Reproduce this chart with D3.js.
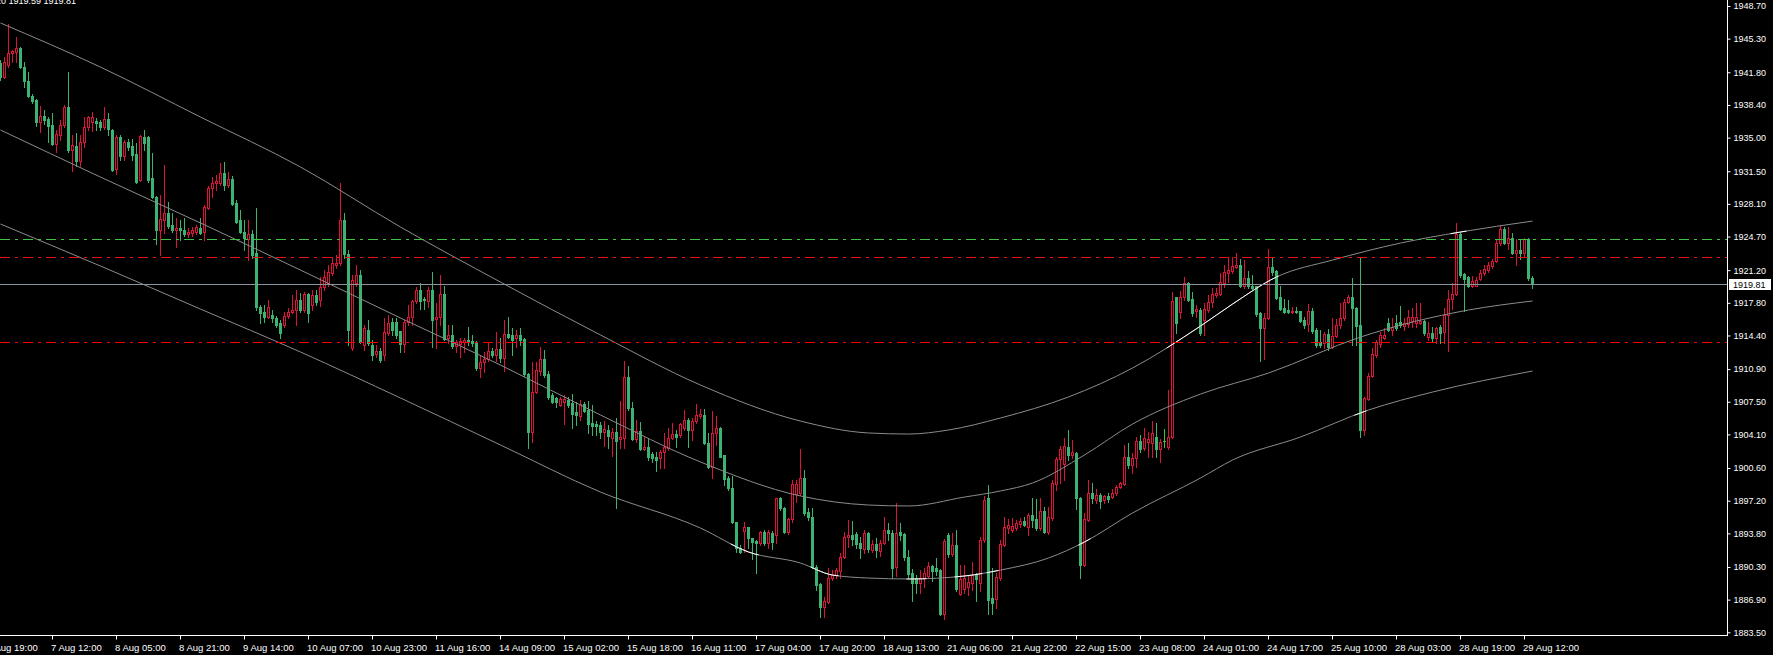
<!DOCTYPE html>
<html><head><meta charset="utf-8">
<script src="https://cdn.jsdelivr.net/npm/d3@7"></script>
<style>
html,body{margin:0;padding:0;background:#000;overflow:hidden}
svg{display:block}
</style></head><body>
<svg id="chart" width="1773" height="655"></svg>
<script>
// ---------- DATA (XAUUSD H1) ----------
const headerText = "XAUUSD,H1  1920.03 1920.20 1919.59 1919.81";
const openP = [
1942.8,1941.3,1942.6,1943.8,1943.9,1944.3,1942.3,1940.9,1939.3,1938.9,
1936.6,1937.2,1936.9,1936.3,1934.3,1935.3,1936.3,1938.2,1933.7,1934.1,
1932.6,1934.5,1936.1,1936.6,1936.7,1936.6,1936.1,1936.9,1935.8,1931.7,
1935.1,1933.1,1934.5,1934.1,1933.3,1930.6,1935.1,1935.1,1930.8,1928.8,
1925.4,1926.4,1927.2,1925.9,1925.4,1925.6,1925.4,1925.0,1925.1,1925.2,
1925.6,1925.2,1927.7,1929.8,1930.3,1930.3,1931.3,1930.1,1930.7,1928.2,
1926.4,1925.2,1924.4,1925.0,1923.0,1917.4,1916.8,1916.3,1916.5,1916.2,
1915.7,1915.5,1916.4,1916.8,1917.1,1918.1,1917.1,1918.7,1917.6,1918.6,
1918.1,1919.4,1919.9,1920.9,1921.7,1921.9,1926.4,1922.9,1913.1,1919.9,
1920.7,1913.4,1915.0,1913.4,1912.5,1912.8,1912.4,1914.7,1915.8,1915.8,
1914.9,1913.5,1915.8,1916.3,1918.0,1919.1,1918.2,1918.0,1919.1,1916.1,
1916.3,1918.7,1914.1,1914.5,1913.3,1913.5,1913.7,1913.9,1913.8,1913.7,
1911.0,1911.6,1911.9,1912.8,1912.4,1913.0,1912.1,1914.6,1914.5,1914.1,
1914.5,1914.0,1910.4,1904.3,1908.5,1910.7,1911.9,1910.4,1908.2,1907.9,
1907.2,1907.5,1907.7,1907.4,1906.4,1906.0,1907.3,1906.6,1905.3,1905.2,
1905.1,1904.3,1904.6,1903.7,1904.3,1903.6,1903.7,1910.1,1906.9,1903.6,
1904.5,1902.6,1902.8,1902.1,1901.7,1901.6,1902.3,1902.7,1903.7,1904.1,
1904.0,1904.8,1905.6,1904.6,1905.5,1906.0,1906.1,1903.2,1900.7,1904.2,
1904.8,1902.0,1899.6,1898.5,1895.0,1892.3,1894.0,1894.5,1893.3,1893.0,
1892.8,1893.9,1892.8,1893.8,1893.6,1897.5,1896.4,1893.9,1895.3,1897.9,
1898.0,1899.6,1896.0,1895.5,1890.3,1888.5,1886.1,1886.7,1889.2,1889.5,
1889.9,1891.3,1893.4,1893.6,1893.7,1892.8,1892.2,1893.8,1892.1,1892.7,
1892.0,1892.8,1894.2,1893.8,1890.3,1893.9,1893.7,1891.3,1889.7,1889.2,
1888.6,1889.2,1889.4,1890.4,1890.2,1890.0,1885.4,1893.6,1891.6,1892.6,
1887.5,1888.0,1888.2,1888.6,1889.6,1888.6,1893.1,1897.5,1887.1,1887.0,
1889.2,1892.6,1894.4,1894.2,1894.4,1894.8,1895.1,1894.5,1895.7,1895.3,
1894.4,1896.1,1893.9,1895.4,1898.9,1901.5,1901.0,1902.8,1902.0,1902.2,
1897.5,1890.5,1895.2,1898.0,1897.3,1897.8,1897.3,1897.7,1897.6,1898.0,
1898.6,1898.9,1901.7,1900.9,1901.6,1903.4,1902.7,1903.3,1903.2,1903.8,
1902.6,1903.4,1902.8,1903.8,1918.4,1916.8,1918.4,1919.9,1918.2,1916.9,
1917.1,1916.0,1917.1,1917.9,1918.6,1918.7,1919.9,1920.9,1921.1,1921.5,
1921.7,1919.5,1920.4,1919.6,1919.5,1916.7,1915.2,1916.2,1921.5,1921.1,
1918.4,1917.3,1917.1,1916.8,1917.0,1916.9,1916.0,1915.6,1917.0,1915.0,
1913.7,1913.6,1914.6,1913.2,1914.3,1915.5,1916.2,1917.9,1918.4,1917.3,
1915.5,1904.6,1907.8,1910.2,1912.4,1913.5,1914.1,1915.7,1915.0,1915.7,
1915.8,1915.4,1915.6,1915.9,1915.7,1915.7,1915.9,1914.2,1914.7,1914.1,
1915.3,1914.8,1916.5,1918.2,1918.7,1925.0,1920.8,1920.5,1919.6,1919.6,
1920.3,1920.9,1921.2,1921.6,1922.2,1924.0,1925.5,1924.0,1924.5,1923.0,
1923.3,1923.0,1924.4,1920.4];
const highP = [
1943.1,1943.4,1946.8,1944.1,1945.5,1944.4,1942.9,1941.8,1939.5,1939.0,
1938.3,1937.9,1937.1,1937.6,1935.8,1936.8,1938.4,1941.8,1935.3,1935.5,
1935.3,1937.1,1937.2,1937.7,1937.0,1936.8,1938.2,1937.6,1935.9,1935.3,
1935.3,1934.8,1934.9,1934.9,1934.4,1935.3,1935.8,1935.2,1933.4,1928.9,
1929.0,1932.1,1928.3,1927.1,1926.6,1926.4,1926.6,1925.6,1925.7,1925.9,
1926.6,1928.0,1930.0,1930.9,1931.1,1932.4,1932.5,1931.4,1931.0,1928.5,
1927.5,1926.4,1926.4,1925.4,1927.7,1917.6,1917.6,1918.1,1917.1,1916.4,
1916.0,1916.8,1917.3,1918.6,1919.1,1918.8,1918.9,1918.8,1919.1,1919.1,
1920.5,1921.2,1921.7,1922.6,1922.8,1930.3,1927.2,1923.3,1920.7,1921.7,
1921.2,1915.5,1916.0,1913.9,1913.4,1913.1,1916.2,1916.5,1916.2,1916.2,
1914.9,1916.0,1917.6,1918.1,1919.4,1919.9,1918.4,1919.4,1921.0,1917.8,
1920.7,1919.6,1915.5,1915.5,1913.9,1914.1,1914.1,1915.3,1914.5,1913.8,
1912.4,1912.7,1913.7,1913.1,1914.8,1914.1,1916.0,1916.3,1915.2,1915.0,
1915.2,1914.1,1910.5,1911.6,1911.6,1913.2,1912.9,1910.7,1908.4,1908.0,
1908.0,1908.2,1908.0,1908.3,1907.5,1907.7,1907.5,1907.6,1907.2,1905.5,
1905.4,1905.5,1905.1,1904.8,1905.8,1907.6,1911.7,1911.2,1907.5,1905.6,
1905.4,1903.8,1903.7,1902.3,1902.3,1902.5,1904.2,1904.8,1905.3,1904.6,
1905.3,1906.6,1905.8,1905.8,1907.3,1906.7,1906.7,1904.2,1906.5,1906.0,
1904.9,1902.0,1899.8,1899.8,1895.0,1892.6,1895.0,1894.5,1893.3,1893.1,
1894.0,1894.2,1894.2,1894.0,1897.5,1897.6,1896.5,1895.4,1899.4,1899.4,
1902.6,1900.4,1896.4,1896.4,1890.5,1888.6,1887.2,1890.2,1890.0,1890.2,
1891.8,1893.9,1895.2,1895.1,1893.9,1893.4,1894.2,1893.9,1893.1,1893.3,
1893.1,1895.5,1894.9,1894.2,1897.0,1894.9,1893.8,1892.1,1890.1,1889.5,
1890.0,1890.2,1890.8,1890.5,1891.2,1890.1,1893.2,1893.8,1893.8,1894.2,
1890.5,1890.5,1889.5,1890.8,1889.7,1893.4,1897.7,1898.8,1890.2,1889.7,
1893.1,1895.5,1895.3,1895.4,1895.2,1895.4,1895.5,1895.9,1897.5,1897.4,
1897.5,1896.5,1896.5,1899.4,1901.7,1902.9,1903.7,1904.6,1903.5,1902.3,
1897.6,1895.9,1899.4,1899.0,1898.4,1898.0,1897.8,1898.0,1898.4,1898.8,
1899.1,1903.0,1903.2,1902.2,1903.8,1904.0,1904.8,1904.4,1905.5,1905.3,
1903.6,1904.7,1908.7,1918.9,1918.4,1919.0,1920.5,1920.0,1918.9,1917.6,
1917.3,1917.8,1918.6,1919.3,1919.3,1920.9,1921.7,1922.6,1922.6,1923.0,
1922.4,1922.3,1921.1,1920.7,1919.6,1916.8,1916.7,1923.4,1922.5,1921.2,
1919.6,1918.2,1918.1,1917.4,1917.4,1917.0,1916.3,1917.7,1917.3,1915.2,
1915.0,1914.8,1915.1,1916.2,1916.1,1917.8,1918.2,1918.6,1920.4,1917.4,
1922.5,1908.0,1910.5,1913.1,1913.9,1914.8,1915.2,1916.2,1916.2,1916.5,
1917.5,1916.2,1917.1,1917.3,1917.8,1917.8,1916.0,1915.8,1915.3,1915.3,
1915.5,1917.3,1919.1,1919.9,1926.1,1925.2,1920.9,1920.6,1920.6,1920.5,
1921.2,1921.7,1922.0,1922.4,1924.3,1925.9,1925.7,1925.7,1925.1,1924.4,
1924.4,1924.5,1924.5,1920.6];
const lowP = [
1941.0,1941.2,1942.4,1942.9,1942.9,1942.2,1940.3,1939.2,1938.6,1936.2,
1935.6,1936.4,1934.5,1934.2,1933.5,1934.8,1936.1,1933.5,1931.5,1932.0,
1932.0,1934.0,1935.8,1935.7,1935.8,1935.8,1935.9,1935.3,1931.5,1931.2,
1932.7,1932.7,1933.7,1932.7,1930.3,1930.5,1933.7,1930.4,1928.7,1923.9,
1922.8,1925.1,1925.6,1925.2,1923.6,1924.3,1924.8,1924.7,1924.8,1925.0,
1925.0,1924.3,1927.6,1928.8,1929.5,1930.1,1929.5,1929.9,1928.0,1926.1,
1925.1,1923.3,1922.3,1922.5,1917.1,1915.7,1915.8,1916.2,1915.8,1915.3,
1914.1,1915.3,1916.2,1916.7,1915.5,1916.8,1916.8,1915.8,1917.1,1917.6,
1917.5,1919.1,1919.6,1920.7,1921.4,1921.7,1922.5,1913.4,1912.9,1919.6,
1913.6,1912.9,1913.4,1911.8,1912.2,1911.6,1911.8,1914.5,1914.5,1914.1,
1912.7,1912.7,1915.5,1915.5,1917.8,1917.2,1917.2,1917.4,1913.2,1913.1,
1915.5,1913.9,1913.6,1913.1,1912.7,1912.2,1912.7,1913.4,1913.3,1910.8,
1910.1,1910.6,1911.7,1912.2,1911.7,1911.6,1910.7,1914.1,1912.4,1913.2,
1913.4,1910.2,1902.7,1903.3,1908.4,1910.3,1910.1,1907.8,1907.4,1907.0,
1907.1,1905.2,1907.0,1904.8,1905.1,1905.6,1906.4,1904.2,1904.0,1904.0,
1903.7,1902.9,1902.7,1901.9,1896.4,1902.7,1902.7,1906.6,1903.5,1903.3,
1902.5,1902.5,1901.4,1901.2,1900.3,1900.6,1900.6,1902.5,1903.6,1902.8,
1903.8,1904.6,1902.8,1903.5,1905.3,1905.8,1903.1,1900.6,1899.6,1903.0,
1901.7,1898.8,1898.3,1894.9,1891.9,1891.8,1891.9,1892.3,1891.1,1889.7,
1892.6,1892.6,1892.3,1892.2,1892.8,1896.2,1893.8,1893.7,1895.0,1897.1,
1897.8,1895.7,1895.2,1890.2,1887.9,1885.1,1885.1,1886.6,1888.9,1889.2,
1889.2,1891.2,1892.4,1892.6,1892.3,1891.2,1891.8,1891.9,1891.9,1891.3,
1891.4,1892.7,1893.1,1889.2,1889.4,1893.1,1891.0,1889.2,1886.8,1887.6,
1887.6,1888.2,1889.2,1888.8,1889.5,1885.3,1884.9,1891.3,1891.4,1887.8,
1887.4,1887.6,1887.4,1887.9,1886.8,1887.8,1892.9,1885.4,1885.4,1886.0,
1888.9,1892.5,1893.8,1893.9,1894.2,1894.5,1894.6,1893.6,1894.5,1894.2,
1894.2,1893.8,1893.7,1895.2,1898.3,1899.0,1899.4,1901.4,1901.6,1896.3,
1889.2,1890.4,1895.1,1897.0,1897.0,1896.4,1897.0,1897.1,1897.5,1897.8,
1898.5,1898.8,1900.6,1900.1,1900.7,1902.3,1902.5,1901.7,1901.7,1901.7,
1901.2,1902.8,1902.6,1903.7,1914.7,1916.2,1918.1,1918.0,1916.4,1916.3,
1914.5,1914.5,1916.8,1917.4,1918.4,1918.6,1919.4,1920.0,1920.9,1921.4,
1919.4,1919.3,1919.3,1919.2,1916.4,1911.7,1911.9,1916.1,1920.7,1918.2,
1917.1,1916.7,1916.7,1916.7,1916.7,1915.8,1915.2,1914.9,1914.7,1913.2,
1913.2,1913.1,1912.9,1913.1,1914.2,1915.2,1916.0,1917.8,1913.4,1913.4,
1903.8,1904.0,1907.7,1910.1,1912.2,1913.2,1914.0,1914.9,1914.5,1915.0,
1915.3,1915.0,1915.3,1915.3,1915.3,1915.6,1914.5,1913.9,1913.7,1913.6,
1913.6,1913.6,1912.8,1917.2,1918.6,1920.5,1916.9,1919.4,1919.4,1919.5,
1920.2,1920.7,1921.0,1921.4,1922.1,1923.8,1923.9,1923.4,1922.9,1921.7,
1922.4,1922.6,1920.2,1919.3];
const closeP = [
1941.3,1942.9,1943.8,1944.0,1944.3,1942.3,1940.9,1939.3,1938.8,1936.6,
1937.2,1936.8,1936.2,1934.3,1935.4,1936.3,1938.2,1933.7,1934.2,1932.6,
1934.5,1936.1,1937.1,1937.1,1936.5,1936.1,1936.9,1935.9,1931.6,1935.1,
1933.1,1934.5,1934.0,1933.2,1930.4,1935.2,1934.4,1930.6,1928.8,1925.4,
1926.5,1927.2,1925.8,1925.4,1925.6,1925.4,1925.0,1925.2,1925.4,1925.7,
1925.1,1927.8,1929.8,1930.3,1930.5,1931.3,1930.1,1930.7,1928.1,1926.2,
1925.2,1924.5,1925.0,1922.8,1917.4,1916.7,1916.3,1917.4,1916.2,1915.5,
1914.7,1916.4,1916.8,1917.1,1918.1,1917.1,1918.7,1916.7,1918.6,1917.9,
1919.4,1920.5,1921.0,1921.9,1921.9,1926.4,1922.9,1915.0,1920.2,1920.7,
1913.7,1915.2,1913.6,1912.4,1912.8,1911.8,1914.8,1915.7,1915.0,1914.5,
1913.5,1915.8,1916.3,1918.0,1919.1,1918.0,1918.1,1919.1,1916.0,1916.3,
1918.7,1914.0,1914.5,1913.3,1913.7,1913.8,1913.9,1913.7,1913.6,1911.0,
1911.6,1911.9,1912.8,1912.4,1913.0,1912.1,1914.6,1914.2,1913.9,1914.5,
1913.9,1910.4,1904.3,1908.5,1910.8,1911.9,1910.3,1908.0,1907.5,1907.5,
1907.8,1907.8,1907.2,1906.2,1906.1,1907.3,1906.5,1905.2,1905.0,1905.0,
1904.3,1904.7,1903.9,1904.3,1903.4,1903.8,1910.1,1906.9,1903.6,1904.5,
1902.6,1902.8,1901.7,1901.6,1901.4,1902.3,1902.8,1903.7,1904.1,1903.8,
1905.2,1905.6,1904.6,1905.5,1906.1,1906.2,1903.2,1900.7,1904.2,1904.8,
1901.8,1899.5,1898.5,1895.0,1892.3,1891.9,1894.5,1893.3,1892.9,1892.8,
1893.9,1892.8,1893.9,1892.9,1897.5,1896.4,1893.9,1895.3,1898.9,1898.9,
1899.6,1895.9,1895.5,1890.3,1888.4,1886.1,1886.8,1889.2,1889.5,1890.0,
1891.3,1893.4,1893.6,1893.2,1892.7,1892.3,1893.8,1892.2,1892.7,1892.1,
1892.8,1894.2,1893.8,1890.2,1893.8,1893.6,1891.3,1889.6,1888.6,1888.6,
1889.2,1889.7,1890.4,1889.9,1889.9,1885.4,1893.0,1891.6,1892.6,1888.0,
1889.0,1889.2,1888.7,1889.5,1889.0,1893.1,1897.3,1886.9,1886.5,1889.3,
1892.7,1894.5,1894.7,1894.6,1894.9,1895.1,1894.7,1895.7,1895.2,1894.4,
1896.1,1893.9,1895.5,1899.0,1901.5,1902.6,1902.9,1902.0,1902.3,1897.5,
1890.5,1895.3,1898.0,1897.5,1897.8,1897.2,1897.7,1897.4,1898.0,1898.6,
1899.0,1901.7,1900.9,1901.6,1903.4,1902.6,1903.7,1903.6,1904.2,1902.6,
1903.3,1903.4,1903.8,1918.0,1915.7,1918.4,1919.9,1918.1,1916.7,1917.2,
1914.7,1917.2,1917.9,1918.7,1918.8,1920.0,1921.0,1921.2,1921.6,1921.7,
1919.5,1920.4,1919.5,1919.3,1916.6,1915.2,1916.2,1921.5,1921.0,1918.3,
1917.2,1916.8,1916.8,1917.0,1916.8,1915.9,1915.5,1917.0,1914.9,1913.4,
1913.4,1914.6,1913.2,1914.3,1915.5,1916.2,1917.9,1918.4,1917.3,1915.4,
1904.6,1907.9,1910.2,1912.5,1913.7,1914.5,1914.5,1915.0,1915.3,1915.2,
1915.5,1915.7,1916.3,1916.3,1916.3,1915.9,1914.7,1914.7,1914.1,1915.2,
1914.7,1916.5,1918.2,1918.7,1925.0,1920.7,1920.3,1919.5,1920.1,1920.2,
1920.9,1921.3,1921.7,1922.2,1924.0,1925.5,1924.0,1924.5,1923.0,1923.3,
1923.0,1924.4,1920.4,1919.81];

// time axis (bar index of each label, H1 bars)
const timeTickBars = [-3,13,29,45,61,77,93,109,125,141,157,173,189,205,221,237,253,269,285,301,317,333,349,365,381];
const timeTickLabels = ["6 Aug 19:00","7 Aug 12:00","8 Aug 05:00","8 Aug 21:00","9 Aug 14:00","10 Aug 07:00",
 "10 Aug 23:00","11 Aug 16:00","14 Aug 09:00","15 Aug 02:00","15 Aug 18:00","16 Aug 11:00","17 Aug 04:00",
 "17 Aug 20:00","18 Aug 13:00","21 Aug 06:00","21 Aug 22:00","22 Aug 15:00","23 Aug 08:00","24 Aug 01:00",
 "24 Aug 17:00","25 Aug 10:00","28 Aug 03:00","28 Aug 19:00","29 Aug 12:00"];
const priceTicks = [1948.70,1945.30,1941.80,1938.40,1935.00,1931.50,1928.10,1924.70,1921.20,1917.80,
 1914.40,1910.90,1907.50,1904.10,1900.60,1897.20,1893.80,1890.30,1886.90,1883.50];
const priceMin = 1883.5, priceMax = 1948.7;
const lastPrice = 1919.81;
const levelGreen = 1924.41, levelRedUp = 1922.54, levelRedLow = 1913.69;

// regression channel (sampled at bar indices)
const upperBars = [0,25,50,75,100,125,150,175,200,217,227,237,250,267,283,300,308,319,333,350,365,383];
const upperVals = [1946.93,1942.34,1937.14,1931.94,1925.69,1919.96,1914.45,1909.24,1905.49,1904.25,1904.14,1904.56,1905.81,1908.00,1911.01,1915.38,1917.67,1920.49,1922.25,1924.02,1925.17,1926.31];
const middleBars = [0,25,50,75,100,125,150,175,200,217,227,241,250,258,271,283,300,317,340,367,383];
const middleVals = [1935.79,1930.89,1926.11,1921.21,1916.22,1911.32,1906.12,1901.23,1897.69,1896.75,1896.65,1897.58,1898.21,1899.04,1901.96,1905.18,1908.30,1910.49,1914.24,1917.05,1917.99];
const lowerBars = [0,25,50,75,100,125,150,175,187,200,208,217,227,241,250,262,271,283,300,308,325,342,358,383];
const lowerVals = [1926.00,1921.63,1917.15,1912.68,1907.89,1903.00,1898.10,1894.35,1891.86,1890.71,1889.46,1889.15,1889.05,1889.36,1889.98,1891.23,1892.90,1895.92,1899.56,1901.43,1903.83,1906.64,1908.51,1910.70];
const upperWhiteRanges = [[292,319],[363,366]];
const lowerWhiteRanges = [[183,186],[187,189],[203,209],[227,231],[239,245],[247,249],[270,272],[339,341]];

// ---------- DRAW ----------
const W = 1773, H = 655, plotR = 1727, plotB = 635;
const COL_UP = "#dc143c", COL_DN = "#3cb371", COL_DOJI = "#32cd32";
const FONT = "'Liberation Sans', Arial, sans-serif";
const n = closeP.length;
const svg = d3.select("#chart");
svg.append("rect").attr("width", W).attr("height", H).attr("fill", "#000");

const x = d3.scaleLinear().domain([0, n - 1]).range([0.5, 4 * (n - 1) + 0.5]);
const y = d3.scaleLinear().domain([priceMin, priceMax]).range([632.3, 6]);

const defs = svg.append("defs");
defs.append("clipPath").attr("id", "plotClip").append("rect")
  .attr("x", 0).attr("y", 0).attr("width", plotR).attr("height", plotB);

const plot = svg.append("g").attr("clip-path", "url(#plotClip)");

// candles
const bars = d3.range(n).map(i => ({i, o: openP[i], h: highP[i], l: lowP[i], c: closeP[i]}));
const cg = plot.append("g");
bars.forEach(b => {
  const cx = x(b.i);
  const yh = Math.round(y(b.h)), yl = Math.round(y(b.l));
  const top = Math.round(y(Math.max(b.o, b.c))), bot = Math.round(y(Math.min(b.o, b.c)));
  const col = b.c > b.o ? COL_UP : (b.c < b.o ? COL_DN : COL_DOJI);
  cg.append("line").attr("x1", cx).attr("x2", cx).attr("y1", yh).attr("y2", yl + 1)
    .attr("stroke", col).attr("stroke-width", 1);
  if (b.c > b.o) {
    cg.append("rect").attr("x", cx - 1).attr("y", top + 0.5).attr("width", 2)
      .attr("height", Math.max(1, bot - top)).attr("fill", "#000").attr("stroke", col).attr("stroke-width", 1);
  } else if (b.c < b.o) {
    cg.append("rect").attr("x", cx - 1.5).attr("y", top).attr("width", 3)
      .attr("height", Math.max(1, bot - top + 1)).attr("fill", col);
  } else {
    cg.append("rect").attr("x", cx - 1.5).attr("y", top).attr("width", 3).attr("height", 1).attr("fill", col);
  }
});

// channel curves
const lineGen = d3.line().x(d => x(d[0])).y(d => y(d[1])).curve(d3.curveMonotoneX);
const upperPts = upperBars.map((b, i) => [b, upperVals[i]]);
const middlePts = middleBars.map((b, i) => [b, middleVals[i]]);
const lowerPts = lowerBars.map((b, i) => [b, lowerVals[i]]);
[upperPts, middlePts, lowerPts].forEach(pts => {
  plot.append("path").attr("d", lineGen(pts)).attr("fill", "none")
    .attr("stroke", "#8c8c8c").attr("stroke-width", 1);
});
function whiteOverlay(pts, ranges, id) {
  const cp = defs.append("clipPath").attr("id", id);
  ranges.forEach(r => cp.append("rect").attr("x", x(r[0]) - 2).attr("width", x(r[1]) - x(r[0]) + 4)
    .attr("y", 0).attr("height", plotB));
  plot.append("g").attr("clip-path", `url(#${id})`).append("path").attr("d", lineGen(pts))
    .attr("fill", "none").attr("stroke", "#ffffff").attr("stroke-width", 1);
}
whiteOverlay(upperPts, upperWhiteRanges, "wUp");
whiteOverlay(lowerPts, lowerWhiteRanges, "wLo");

// horizontal levels
function hline(v, color, dash, w) {
  const yy = Math.round(y(v)) + 0.5;
  plot.append("line").attr("x1", 0).attr("x2", plotR).attr("y1", yy).attr("y2", yy)
    .attr("stroke", color).attr("stroke-width", w || 1).attr("stroke-dasharray", dash || null);
}
hline(levelGreen, "#3ec43e", "10,5,3,5");
hline(levelRedUp, "#e81010", "10,5,3,5");
hline(levelRedLow, "#ff0000", "10,5,3,5");
hline(lastPrice, "#8a93a0");

// axes frame
svg.append("line").attr("x1", plotR + 0.5).attr("x2", plotR + 0.5).attr("y1", 0).attr("y2", plotB + 1)
  .attr("stroke", "#fff");
svg.append("line").attr("x1", 0).attr("x2", plotR + 1).attr("y1", plotB + 0.5).attr("y2", plotB + 0.5)
  .attr("stroke", "#fff");

// price axis
const yAxis = d3.axisRight(y).tickValues(priceTicks).tickFormat(d3.format(".2f")).tickSize(3).tickPadding(3);
const gy = svg.append("g").attr("transform", `translate(${plotR + 0.5},0)`).call(yAxis);
gy.select(".domain").remove();
gy.attr("font-family", FONT).attr("font-size", 9);
gy.selectAll(".tick line").attr("stroke", "#fff");
gy.selectAll(".tick text").attr("fill", "#fff");

// time axis
const xAxis = d3.axisBottom(x).tickValues(timeTickBars).tickFormat((d, i) => timeTickLabels[i])
  .tickSize(4).tickPadding(0).offset(0);
const gx = svg.append("g").attr("transform", `translate(0,${plotB + 0.5})`).call(xAxis);
gx.select(".domain").remove();
gx.attr("font-family", FONT).attr("font-size", 9.5);
gx.selectAll(".tick line").attr("stroke", "#fff");
gx.selectAll(".tick text").attr("fill", "#fff").attr("text-anchor", "start").attr("x", -1.5).attr("y", 9);

// last price box
const yl = Math.round(y(lastPrice));
svg.append("rect").attr("x", plotR + 2).attr("y", yl - 5).attr("width", 42).attr("height", 11).attr("fill", "#fff");
svg.append("text").attr("x", plotR + 6).attr("y", yl + 0.5).attr("dy", "0.35em")
  .attr("font-family", FONT).attr("font-size", 9).attr("fill", "#000").text(lastPrice.toFixed(2));

// header (partly outside the window, as in the reference)
svg.append("text").attr("x", 76).attr("y", 3.5).attr("text-anchor", "end")
  .attr("font-family", FONT).attr("font-size", 9).attr("fill", "#fff").text(headerText);
</script>
</body></html>
